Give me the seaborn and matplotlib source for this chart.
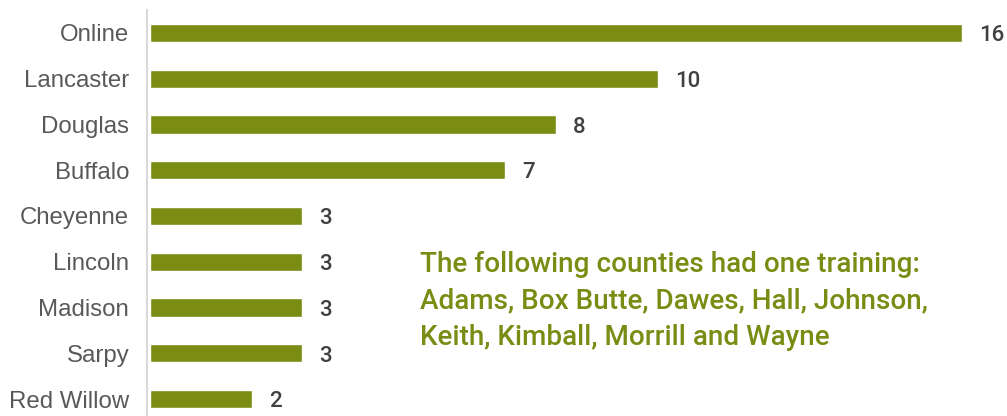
import seaborn as sns
import matplotlib.pyplot as plt
import pandas as pd

# Trainings per county
counties = ["Online", "Lancaster", "Douglas", "Buffalo", "Cheyenne",
            "Lincoln", "Madison", "Sarpy", "Red Willow"]
trainings = [16, 10, 8, 7, 3, 3, 3, 3, 2]

note = ("The following counties had one training:\n"
        "Adams, Box Butte, Dawes, Hall, Johnson,\n"
        "Keith, Kimball, Morrill and Wayne")

df = pd.DataFrame({"County": counties, "Trainings": trainings})

green = "#7a8c13"

sns.set_style("white")
fig = plt.figure(figsize=(10.07, 4.16), dpi=100)
ax = fig.add_axes([150 / 1007, 0, 812 / 1007, 406 / 416])

sns.barplot(data=df, x="Trainings", y="County", color=green, width=0.4,
            saturation=1, ax=ax)

ax.set_xlim(0, 16)
ax.set_ylim(8.37, -0.5)
ax.set_xlabel("")
ax.set_ylabel("")
ax.set_xticks([])
for s in ["top", "right", "bottom"]:
    ax.spines[s].set_visible(False)
ax.spines["left"].set_color("#d9d9d9")
ax.spines["left"].set_linewidth(1.5)
ax.spines["left"].set_position(("outward", 2))
ax.tick_params(axis="y", length=0, pad=13, labelsize=17.3, labelcolor="#595959")
for lab in ax.get_yticklabels():
    lab.set_family("Liberation Sans")

for i, v in enumerate(trainings):
    ax.text(v + 0.34, i + 0.06, str(v), va="center", ha="left", fontsize=16,
            fontweight="medium", color="#404040", family="Roboto", clip_on=False)

ax.text(5.32, 5.86, note, ha="left", va="center", fontsize=20.1,
        fontweight="medium", color=green, family="Roboto", linespacing=1.45)

fig.savefig("out.png", dpi=100)
